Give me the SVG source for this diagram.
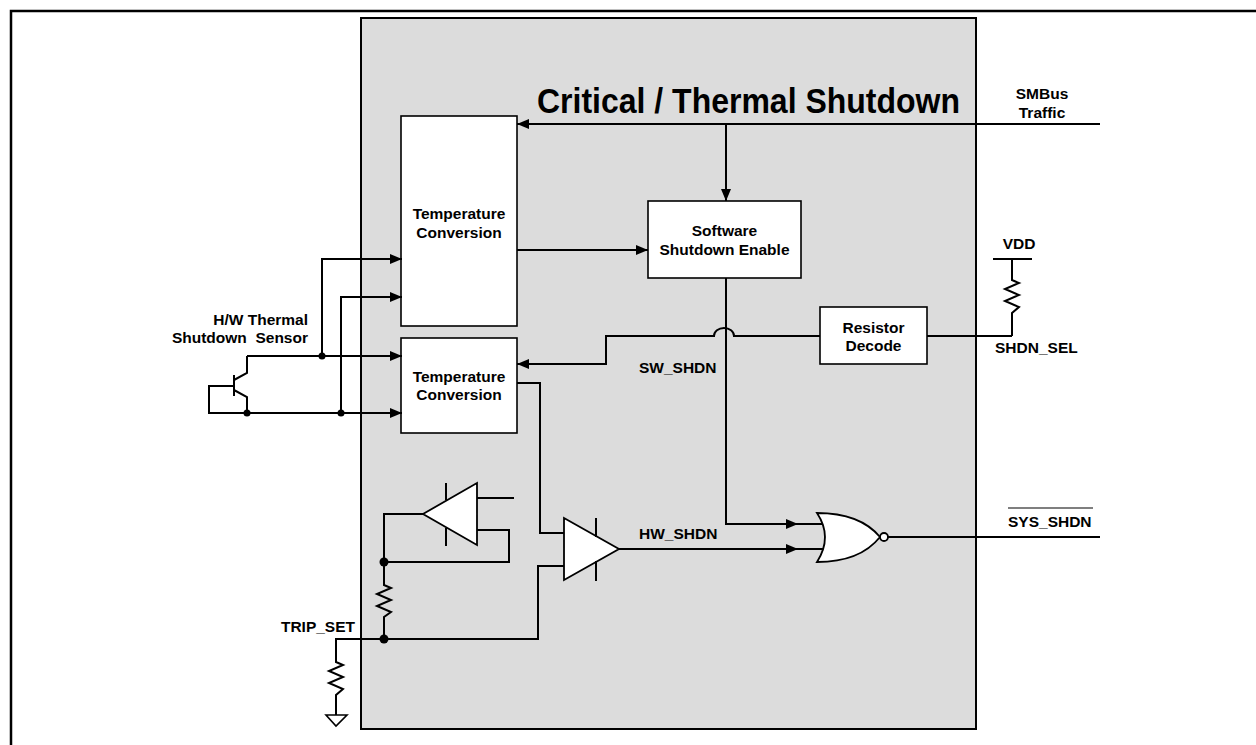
<svg xmlns="http://www.w3.org/2000/svg" width="1256" height="745" viewBox="0 0 1256 745">
<defs>
<marker id="arr" markerUnits="userSpaceOnUse" markerWidth="13" markerHeight="11" refX="12" refY="5" orient="auto"><path d="M0,0 L12,5 L0,10 z" fill="#000"/></marker>
<style>
.t{font-family:"Liberation Sans",Arial,sans-serif;font-weight:bold;font-size:15.5px;fill:#000}
.c{text-anchor:middle}
.e{text-anchor:end}
.w{fill:none;stroke:#000;stroke-width:2}
.box{fill:#fff;stroke:#000;stroke-width:1.6}
.sym{fill:#fff;stroke:#000;stroke-width:1.8}
.dot{fill:#000}
</style>
</defs>
<rect width="1256" height="745" fill="#fff"/>
<path d="M11,745 V11 H1256" fill="none" stroke="#000" stroke-width="2.5"/>

<g id="block">
<rect x="361" y="18" width="615" height="711" fill="#dcdcdc" stroke="#000" stroke-width="2"/>
<text class="t" x="537" y="113" style="font-size:35px" textLength="423" lengthAdjust="spacingAndGlyphs">Critical / Thermal Shutdown</text>
</g>

<g id="temp1">
<rect class="box" x="401" y="116" width="116" height="210"/>
<text class="t c" x="459" y="218.5">Temperature</text>
<text class="t c" x="459" y="237.5">Conversion</text>
</g>

<g id="temp2">
<rect class="box" x="401" y="338" width="116" height="95"/>
<text class="t c" x="459" y="381.5">Temperature</text>
<text class="t c" x="459" y="399.5">Conversion</text>
</g>

<g id="sse">
<rect class="box" x="648" y="201" width="153" height="77"/>
<text class="t c" x="724.5" y="235.5">Software</text>
<text class="t c" x="724.5" y="254.5">Shutdown Enable</text>
</g>

<g id="rdecode">
<rect class="box" x="820" y="307" width="107" height="57"/>
<text class="t c" x="873.5" y="332.5">Resistor</text>
<text class="t c" x="873.5" y="350.5">Decode</text>
</g>

<g id="sensor">
<path class="w" d="M247,356 V373 L234,380 M234,375 V396 M234,390 L247,397 V413 M234,386 H209 V413 H247"/>
<text class="t e" x="308" y="324.5">H/W Thermal</text>
<text class="t e" x="308" y="342.5" style="white-space:pre">Shutdown  Sensor</text>
</g>

<g id="buffer">
<path class="sym" d="M477,483 V545 L423,514 Z"/>
<path class="w" d="M446,483 V500 M446,528 V546"/>
</g>

<g id="comparator">
<path class="sym" d="M564,518 V580 L619,549 Z"/>
<path class="w" d="M596,518 V537 M596,561 V581"/>
</g>

<g id="norgate">
<path class="sym" d="M817,513 Q860,513 880,537 Q860,562 817,562 Q833,537 817,513 Z"/>
<circle cx="884" cy="537" r="4" fill="#fff" stroke="#000" stroke-width="1.8"/>
</g>

<g id="vdd">
<path class="w" d="M993,259 H1032 M1012,259 V280 L1019,283 L1005,289 L1019,295 L1005,301 L1019,307 L1012,313 V336"/>
<text class="t c" x="1019" y="248.5">VDD</text>
<text class="t" x="995" y="352.5">SHDN_SEL</text>
</g>

<g id="trip">
<path class="w" d="M384,639 H336 V662 L343,665 L329,671 L343,677 L329,683 L343,689 L336,695 V715"/>
<path d="M326,715 H347 L336,726 Z" fill="#fff" stroke="#000" stroke-width="1.6"/>
<text class="t e" x="355" y="631.5">TRIP_SET</text>
</g>

<g id="connectors">
<path class="w" d="M1100,124 H517" marker-end="url(#arr)"/>
<path class="w" d="M726,124 V201" marker-end="url(#arr)"/>
<path class="w" d="M517,250 H648" marker-end="url(#arr)"/>
<path class="w" d="M927,336 H1012"/>
<path class="w" d="M820,336 H734 A10,8 0 0 0 714,336 H606 V364 H517" marker-end="url(#arr)"/>
<path class="w" d="M726,278 V524 H798" marker-end="url(#arr)"/>
<path class="w" d="M798,524 H822"/>
<path class="w" d="M619,549 H798" marker-end="url(#arr)"/>
<path class="w" d="M798,549 H823"/>
<path class="w" d="M888,537 H1100"/>
<path class="w" d="M247,356 H402" marker-end="url(#arr)"/>
<path class="w" d="M322,356 V259 H402" marker-end="url(#arr)"/>
<path class="w" d="M247,413 H402" marker-end="url(#arr)"/>
<path class="w" d="M341,413 V297 H402" marker-end="url(#arr)"/>
<path class="w" d="M517,383 H540 V533 H564"/>
<path class="w" d="M384,639 H538 V566 H564"/>
<path class="w" d="M423,514 H384 V585 L391,588 L377,594 L391,600 L377,606 L391,612 L384,617 V639"/>
<path class="w" d="M477,530 H509 V562 H384"/>
<path class="w" d="M477,498 H514"/>
<circle class="dot" cx="322" cy="356" r="3.5"/>
<circle class="dot" cx="341" cy="413" r="3.5"/>
<circle class="dot" cx="247" cy="413" r="3.5"/>
<circle class="dot" cx="384" cy="562" r="4.5"/>
<circle class="dot" cx="384" cy="639" r="4.5"/>
</g>

<g id="labels">
<text class="t c" x="1042" y="99">SMBus</text>
<text class="t c" x="1042" y="118">Traffic</text>
<text class="t" x="639" y="372.5">SW_SHDN</text>
<text class="t" x="639" y="538.5">HW_SHDN</text>
<text class="t" x="1008" y="527">SYS_SHDN</text>
<path d="M1008,508 H1093" stroke="#000" stroke-width="1.2"/>
</g>
</svg>
